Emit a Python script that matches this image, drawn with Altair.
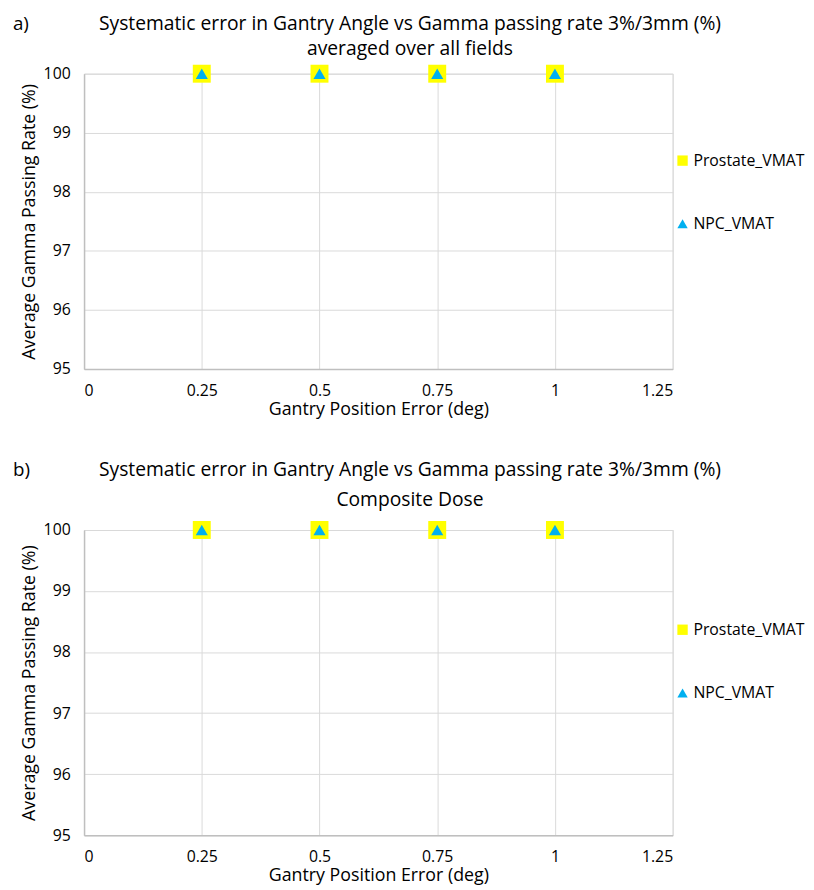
import altair as alt
import pandas as pd

x_err = [0.25, 0.5, 0.75, 1.0]
prostate_a = [100, 100, 100, 100]
npc_a = [100, 100, 100, 100]
prostate_b = [100, 100, 100, 100]
npc_b = [100, 100, 100, 100]
series = ["Prostate_VMAT", "NPC_VMAT"]
colors = ["#FFFF00", "#00B0F0"]
shapes = ["square", "triangle-up"]
x_ticks = [0, 0.25, 0.5, 0.75, 1, 1.25]
y_ticks = [95, 96, 97, 98, 99, 100]

FONT = "Open Sans"
GRID = "#D9D9D9"


def text_mark(t, x, y, size, align):
    return alt.Chart(pd.DataFrame({"t": [t]})).mark_text(
        font=FONT, fontSize=size, baseline="middle", align=align, color="#000"
    ).encode(text="t:N", x=alt.value(x), y=alt.value(y))


def panel(prostate, npc, label, title_lines, h, legend_y, ty1, ty2):
    df = pd.DataFrame({
        "x": x_err * 2,
        "y": prostate + npc,
        "series": [series[0]] * len(x_err) + [series[1]] * len(x_err),
    })
    leg = alt.Legend(
        title=None, orient="none", legendX=598, legendY=legend_y,
        rowPadding=48, labelFontSize=16, labelFont=FONT, labelColor="#000",
        symbolSize=110, symbolStrokeWidth=0, labelOffset=3,
    )
    enc = dict(
        x=alt.X("x:Q", scale=alt.Scale(domain=[0, 1.25], nice=False),
                axis=alt.Axis(values=x_ticks, labelExpr="datum.value + ''",
                              title="Gantry Position Error (deg)")),
        y=alt.Y("y:Q", scale=alt.Scale(domain=[95, 100], nice=False),
                axis=alt.Axis(values=y_ticks,
                              title="Average Gamma Passing Rate (%)")),
        color=alt.Color("series:N", scale=alt.Scale(domain=series, range=colors), legend=leg),
        shape=alt.Shape("series:N", scale=alt.Scale(domain=series, range=shapes), legend=leg),
    )
    base = alt.Chart(df)
    sq = base.mark_point(filled=True, opacity=1, strokeWidth=0, size=330).encode(**enc).transform_filter(
        alt.datum.series == series[0])
    tri = base.mark_point(filled=True, opacity=1, strokeWidth=0, size=150).encode(**enc).transform_filter(
        alt.datum.series == series[1])
    layers = [
        sq, tri,
        text_mark(label, -72, ty1, 19, "left"),
        text_mark(title_lines[0], 330, ty1, 19.5, "center"),
        text_mark(title_lines[1], 330, ty2, 19.5, "center"),
    ]
    return alt.layer(*layers).properties(width=596, height=h)


a = panel(prostate_a, npc_a, "a)",
          ["Systematic error in Gantry Angle vs Gamma passing rate 3%/3mm (%)",
           "averaged over all fields"], 299, 80, -50, -25)
b = panel(prostate_b, npc_b, "b)",
          ["Systematic error in Gantry Angle vs Gamma passing rate 3%/3mm (%)",
           "Composite Dose"], 309, 93, -61, -30)

chart = alt.vconcat(a, b, spacing=40).resolve_scale(
    color="independent", shape="independent"
).resolve_legend(color="independent", shape="independent").properties(
    padding={"left": 4, "top": 0, "right": 0, "bottom": 0}
).configure_axis(
    labelFont=FONT, titleFont=FONT, labelFontSize=16, titleFontSize=18,
    labelColor="#000", titleColor="#000", titleFontWeight="normal",
    gridColor=GRID, domainColor="#BFBFBF", domainWidth=1.5, ticks=False,
    labelPadding=14,
).configure_axisX(titlePadding=2).configure_axisY(titlePadding=5).configure_view(
    stroke=GRID
)

chart.save("out.html", embed_options={"renderer": "svg", "actions": False})
